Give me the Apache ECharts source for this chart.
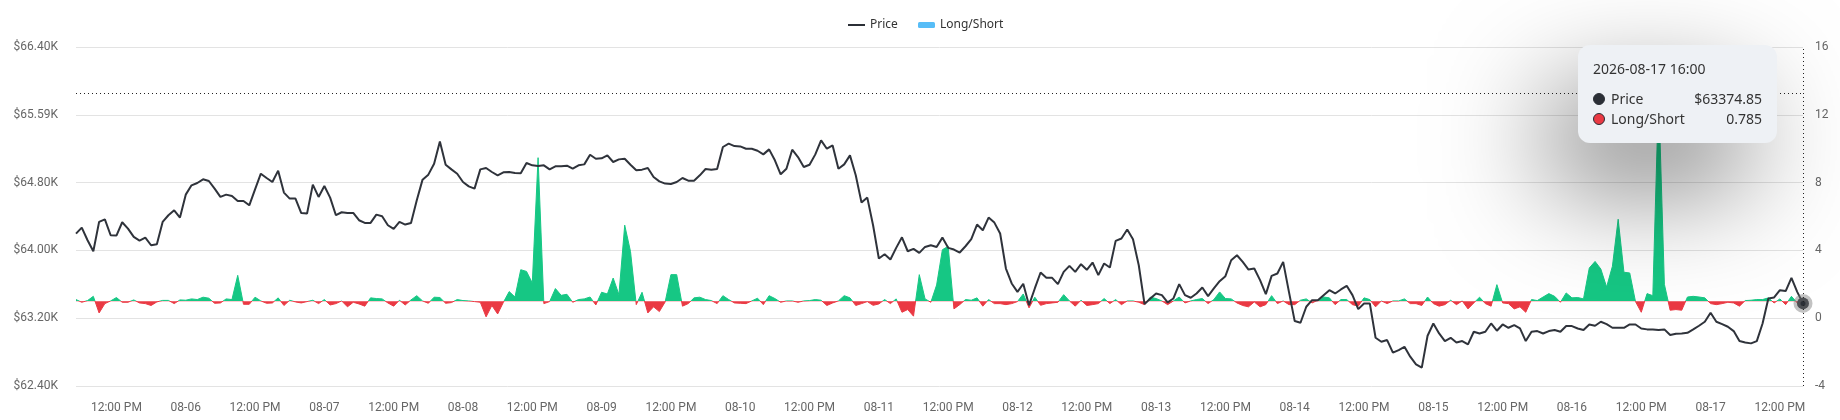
<!DOCTYPE html>
<html>
<head>
<meta charset="utf-8">
<script src="https://cdn.jsdelivr.net/npm/echarts@6/dist/echarts.min.js"></script>
<style>
  html, body { margin: 0; padding: 0; background: #fff; }
  #main { width: 1840px; height: 420px; }
</style>
</head>
<body>
<div id="main"></div>
<script>
// hourly samples, first one at 08-05 05:00
const startTime = '2026-08-05T05:00:00Z'

const price = [
  64198, 64269, 64120, 63990, 64336, 64367, 64179, 64175, 64332, 64257,
  64159, 64116, 64151, 64061, 64073, 64336, 64415, 64473, 64387, 64658,
  64768, 64795, 64839, 64819, 64729, 64631, 64658, 64642, 64583, 64583,
  64532, 64721, 64905, 64854, 64807, 64941, 64682, 64611, 64611, 64440,
  64434, 64776, 64631, 64760, 64623, 64415, 64450, 64442, 64442, 64356,
  64324, 64324, 64422, 64403, 64297, 64254, 64336, 64305, 64324, 64591,
  64835, 64894, 65023, 65286, 65011, 64956, 64905, 64807, 64756, 64729,
  64956, 64972, 64925, 64886, 64921, 64925, 64913, 64909, 65031, 65004,
  64996, 65004, 64956, 64992, 64992, 65000, 64964, 65004, 65015, 65129,
  65082, 65086, 65121, 65043, 65074, 65082, 65011, 64945, 64953, 64972,
  64866, 64815, 64788, 64784, 64807, 64854, 64823, 64823, 64886, 64960,
  64953, 64960, 65220, 65259, 65231, 65227, 65200, 65200, 65176, 65133,
  65192, 65063, 64898, 64964, 65188, 65102, 64984, 65011, 65133, 65298,
  65200, 65239, 64964, 65015, 65121, 64886, 64564, 64623, 64297, 63904,
  63955, 63892, 64030, 64155, 63990, 64018, 63971, 64041, 64061, 64041,
  64151, 64030, 64010, 63975, 64049, 64132, 64305, 64238, 64387, 64328,
  64199, 63786, 63610, 63511, 63606, 63354, 63551, 63739, 63676, 63676,
  63602, 63747, 63818, 63747, 63837, 63771, 63857, 63708, 63845, 63798,
  64112, 64140, 64246, 64132, 63825, 63366, 63433, 63492, 63472, 63386,
  63433, 63602, 63472, 63441, 63492, 63562, 63460, 63551, 63637, 63696,
  63884, 63943, 63865, 63774, 63786, 63649, 63484, 63700, 63727, 63865,
  63511, 63166, 63146, 63335, 63413, 63413, 63472, 63531, 63492, 63539,
  63582, 63472, 63307, 63374, 63374, 62969, 62922, 62942, 62793, 62824,
  62863, 62746, 62655, 62616, 62993, 63138, 63020, 62930, 62969, 62914,
  62930, 62891, 63040, 63020, 63040, 63138, 63052, 63126, 63087, 63119,
  63079, 62930, 63040, 63048, 63020, 63048, 63060, 63040, 63107, 63107,
  63079, 63060, 63126, 63111, 63158, 63130, 63087, 63087, 63087, 63126,
  63126, 63079, 63068, 63068, 63060, 63068, 63001, 63017, 63020, 63028,
  63068, 63111, 63158, 63264, 63158, 63130, 63099, 63048, 62930, 62914,
  62903, 62930, 63138, 63433, 63445, 63531, 63520, 63676, 63511, 63374.85
]

const longShort = [
  1.10, 0.94, 1.04, 1.29, 0.31, 0.86, 1.02, 1.22, 0.94, 0.94,
  1.08, 0.90, 0.86, 0.75, 0.96, 1.05, 1.05, 0.86, 1.08, 1.06,
  1.14, 1.10, 1.24, 1.18, 0.88, 0.90, 1.14, 1.10, 2.53, 0.82,
  0.82, 1.24, 1.02, 0.88, 0.90, 1.20, 0.75, 1.06, 0.96, 0.90,
  0.98, 1.06, 0.86, 1.10, 0.78, 0.86, 1.02, 0.67, 0.94, 0.84,
  0.71, 1.20, 1.16, 1.14, 0.90, 0.71, 1.06, 0.78, 1.08, 1.33,
  1.02, 0.88, 1.24, 1.22, 0.88, 0.92, 1.10, 1.04, 1.02, 0.98,
  0.94, 0.08, 0.75, 0.25, 0.94, 1.57, 1.25, 2.86, 2.76, 2.08,
  9.47, 0.86, 0.98, 1.75, 1.35, 1.41, 0.94, 1.10, 1.14, 1.25,
  0.78, 1.53, 1.43, 2.37, 1.39, 5.49, 3.94, 0.80, 1.53, 0.31,
  0.67, 0.39, 0.96, 2.57, 2.57, 0.71, 0.86, 1.20, 1.24, 1.10,
  1.04, 0.86, 1.33, 1.10, 0.90, 0.88, 0.86, 1.02, 1.18, 0.80,
  1.33, 1.16, 0.94, 1.02, 1.02, 0.94, 1.02, 1.04, 1.10, 1.06,
  0.75, 0.90, 1.02, 1.33, 1.20, 0.75, 0.86, 0.98, 0.76, 0.84,
  1.10, 0.86, 1.14, 0.35, 0.51, 0.12, 2.57, 1.14, 0.94, 1.96,
  4.04, 4.24, 0.55, 0.80, 1.10, 1.06, 1.20, 0.71, 1.10, 0.86,
  0.86, 0.80, 0.86, 0.98, 1.43, 0.61, 1.24, 0.76, 0.86, 0.90,
  0.94, 1.39, 1.02, 0.71, 1.06, 0.75, 0.80, 0.86, 1.16, 0.86,
  1.10, 0.80, 1.02, 1.02, 0.94, 0.80, 1.24, 1.16, 1.02, 0.80,
  1.02, 1.25, 0.90, 1.02, 1.10, 1.16, 0.86, 1.10, 1.55, 1.16,
  1.14, 0.90, 0.75, 0.67, 0.96, 0.67, 0.80, 1.33, 0.86, 1.02,
  0.80, 0.80, 1.06, 1.14, 0.90, 1.06, 1.25, 1.20, 0.80, 1.10,
  1.10, 0.80, 0.71, 1.20, 1.10, 0.67, 1.02, 0.86, 1.02, 1.02,
  1.14, 0.86, 0.86, 0.75, 1.25, 0.86, 0.71, 0.80, 1.06, 0.80,
  1.02, 0.55, 0.90, 1.24, 0.86, 0.71, 1.98, 0.90, 0.86, 0.55,
  0.67, 0.35, 1.10, 1.04, 1.25, 1.45, 1.29, 0.94, 1.49, 1.20,
  1.22, 1.14, 2.96, 3.35, 2.90, 1.84, 3.06, 5.84, 2.71, 2.67,
  0.98, 0.35, 1.45, 1.33, 13.3, 2.0, 0.47, 0.51, 0.47, 1.25,
  1.29, 1.25, 1.20, 0.86, 0.80, 0.86, 0.94, 0.90, 0.71, 1.04,
  1.06, 1.10, 1.10, 1.20, 0.90, 1.14, 0.80, 1.29, 0.90, 0.785
]

const priceTicks = ['$62.40K', '$63.20K', '$64.00K', '$64.80K', '$65.59K', '$66.40K']
const ratioTicks = ['-4', '0', '4', '8', '12', '16']

// where the pointer sits (on the ratio axis)
const cursorRatio = 13.3

const GREEN = '#16c784'
const RED = '#ea3943'
const DARK = '#2b2f36'

const GRID = { left: 76, right: 37, top: 47, bottom: 34 }
const RATIO_MIN = -4, RATIO_MAX = 16

const pad = n => String(n).padStart(2, '0')
const categories = price.map((_, i) => {
  const d = new Date(Date.parse(startTime) + i * 3600e3)
  return `${d.getUTCFullYear()}-${pad(d.getUTCMonth() + 1)}-${pad(d.getUTCDate())} ${pad(d.getUTCHours())}:00`
})

const hourOf = v => v.slice(11, 13)

// green above a ratio of 1, red below: split the fill where 1 lands on the axis
const split = (RATIO_MAX - 1) / (RATIO_MAX - RATIO_MIN)
const plotH = 420 - GRID.top - GRID.bottom
const splitFill = new echarts.graphic.LinearGradient(0, GRID.top, 0, GRID.top + plotH, [
  { offset: 0, color: GREEN },
  { offset: split, color: GREEN },
  { offset: split, color: RED },
  { offset: 1, color: RED }
], true)

const chart = echarts.init(document.getElementById('main'))

const dot = (c) =>
  `<span style="display:inline-block;width:10px;height:10px;border-radius:50%;background:${c};` +
  `border:1.5px solid ${DARK};margin-right:6px;vertical-align:-1px"></span>`
const row = (c, name, val) =>
  `<div style="display:flex;justify-content:space-between;align-items:center;line-height:20px">` +
  `<span>${dot(c)}${name}</span><span>${val}</span></div>`

const option = {
  animation: false,
  textStyle: { fontFamily: 'Roboto' },
  grid: GRID,
  legend: [
    {
      data: ['Price'],
      left: 843, top: 14,
      icon: 'rect', itemWidth: 17, itemHeight: 2, itemGap: 5,
      textStyle: { fontFamily: 'Noto Sans', fontSize: 12, color: '#333' }
    },
    {
      data: [{ name: 'Long/Short', itemStyle: { color: '#57bdf7' } }],
      left: 913, top: 14,
      icon: 'roundRect', itemWidth: 17, itemHeight: 6,
      textStyle: { fontFamily: 'Noto Sans', fontSize: 12, color: '#333' }
    }
  ],
  tooltip: {
    trigger: 'axis',
    alwaysShowContent: true,
    backgroundColor: '#eef1f5',
    borderWidth: 0,
    padding: [14, 15],
    extraCssText: 'border-radius:12px;box-shadow:-30px 45px 110px rgba(0,0,0,0.5);',
    textStyle: { fontFamily: 'Noto Sans', fontSize: 14, color: '#333' },
    position: () => [1578, 45],
    axisPointer: {
      type: 'cross',
      label: { show: false },
      lineStyle: { type: [1, 3], color: '#222', width: 1 },
      crossStyle: { type: [1, 3], color: '#222', width: 1 }
    },
    formatter: params => {
      const p = params.find(q => q.seriesName === 'Price')
      const r = params.find(q => q.seriesName === 'Long/Short')
      return `<div style="min-width:169px">` +
        `<div style="line-height:20px;margin-bottom:10px">${p.axisValue}</div>` +
        row(DARK, 'Price', '$' + p.value.toFixed(2)) +
        row(r.value < 1 ? RED : GREEN, 'Long/Short', r.value.toFixed(3)) +
        `</div>`
    }
  },
  xAxis: {
    type: 'category',
    data: categories,
    boundaryGap: false,
    axisLine: { show: false },
    axisTick: { show: false },
    axisLabel: {
      color: '#666',
      fontSize: 12,
      margin: 16,
      interval: (idx, v) => hourOf(v) === '00' || hourOf(v) === '12',
      formatter: v => hourOf(v) === '12' ? '12:00 PM' : v.slice(5, 10)
    }
  },
  yAxis: [
    {
      type: 'value',
      min: 62400, max: 66400, interval: 800,
      axisLine: { show: false },
      axisTick: { show: false },
      splitLine: { lineStyle: { color: '#e3e3e3' } },
      axisLabel: {
        color: '#666', fontSize: 12, margin: 18,
        formatter: v => priceTicks[Math.round((v - 62400) / 800)]
      }
    },
    {
      type: 'value',
      min: RATIO_MIN, max: RATIO_MAX, interval: 4,
      axisLine: { show: false },
      axisTick: { show: false },
      splitLine: { show: false },
      axisLabel: {
        color: '#666', fontSize: 12, margin: 12,
        formatter: v => ratioTicks[Math.round((v - RATIO_MIN) / 4)]
      }
    }
  ],
  series: [
    {
      name: 'Long/Short',
      type: 'line',
      yAxisIndex: 1,
      data: longShort,
      symbol: 'none',
      lineStyle: { width: 1, color: splitFill },
      areaStyle: { origin: 1, opacity: 1, color: splitFill },
      emphasis: { disabled: true }
    },
    {
      name: 'Price',
      type: 'line',
      data: price,
      color: DARK,
      symbol: 'circle',
      symbolSize: 12,
      showSymbol: false,
      lineStyle: { color: DARK, width: 2 },
      emphasis: {
        scale: false,
        lineStyle: { width: 2 },
        itemStyle: { color: DARK, borderColor: 'rgba(120,120,120,0.45)', borderWidth: 7 }
      }
    }
  ]
}

chart.setOption(option)

const px = chart.convertToPixel({ xAxisIndex: 0 }, categories.length - 1)
const py = chart.convertToPixel({ yAxisIndex: 1 }, cursorRatio)
chart.dispatchAction({ type: 'showTip', x: px, y: py })
</script>
</body>
</html>
